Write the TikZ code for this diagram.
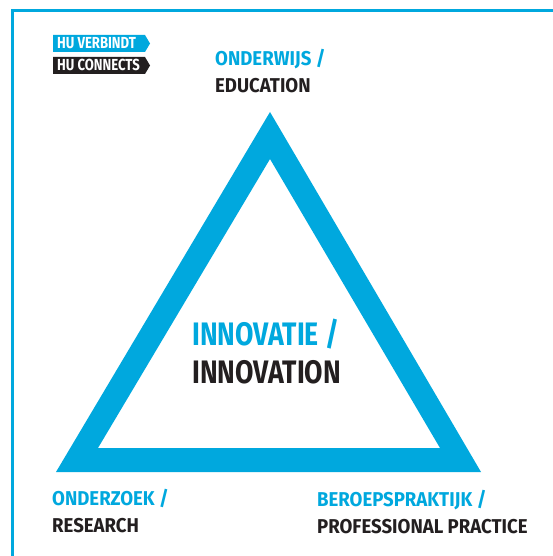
\documentclass[tikz,border=0pt]{standalone}
\usepackage{fontspec}
\newfontfamily\hufont{Fira Sans}[FakeStretch=0.82]
\newfontfamily\hufontwide{Fira Sans}[FakeStretch=0.93]
\definecolor{hublue}{RGB}{0,168,222}
\definecolor{huink}{RGB}{35,31,32}

\begin{document}
\begin{tikzpicture}[x=1pt,y=-1pt,
    nl/.style={anchor=base west,inner sep=0pt,text=hublue,font=\hufontwide\bfseries\fontsize{20}{20}\selectfont},
    en/.style={nl,text=huink},
    big/.style={font=\hufont\bfseries\fontsize{32.5}{32.5}\selectfont},
    badge/.style={anchor=base west,inner sep=0pt,text=white,font=\hufont\bfseries\fontsize{16}{16}\selectfont}]

    \useasboundingbox[fill=white] (0,0) rectangle (553,556);

    % frame, open at the bottom and on the right
    \draw[hublue, line width=3] (12,556) -- (12,11) -- (553,11);

    % tags
    \fill[hublue] (53,35) -- (145,35) -- (150,43.5) -- (145,52) -- (53,52) -- cycle;
    \node[badge] (verbindt) at (57,49) {HU VERBINDT};
    \fill[huink] (53,57) -- (145,57) -- (150,65.5) -- (145,74) -- (53,74) -- cycle;
    \node[badge] (connects) at (57,71) {HU CONNECTS};

    % triangle
    \coordinate (A) at (270,112);
    \coordinate (B) at (56,472);
    \coordinate (C) at (481,472);
    \coordinate (a) at (270,159);
    \coordinate (b) at (98,448);
    \coordinate (c) at (440,448);
    \fill[hublue, even odd rule] (A) -- (B) -- (C) -- cycle (a) -- (b) -- (c) -- cycle;

    % corners
    \node[nl] (onderwijs) at (215,66) {ONDERWIJS /};
    \node[en] (education) at (215,93) {EDUCATION};

    \node[nl] (onderzoek) at (52,505) {ONDERZOEK /};
    \node[en] (research) at (52,532) {RESEARCH};

    \node[nl] (beroeps) at (317,506) {BEROEPSPRAKTIJK /};
    \node[en] (practice) at (317,533) {PROFESSIONAL PRACTICE};

    % centre
    \node[nl, big] (innovatie) at (192,345) {INNOVATIE /};
    \node[en, big] (innovation) at (192,383) {INNOVATION};

\end{tikzpicture}
\end{document}
